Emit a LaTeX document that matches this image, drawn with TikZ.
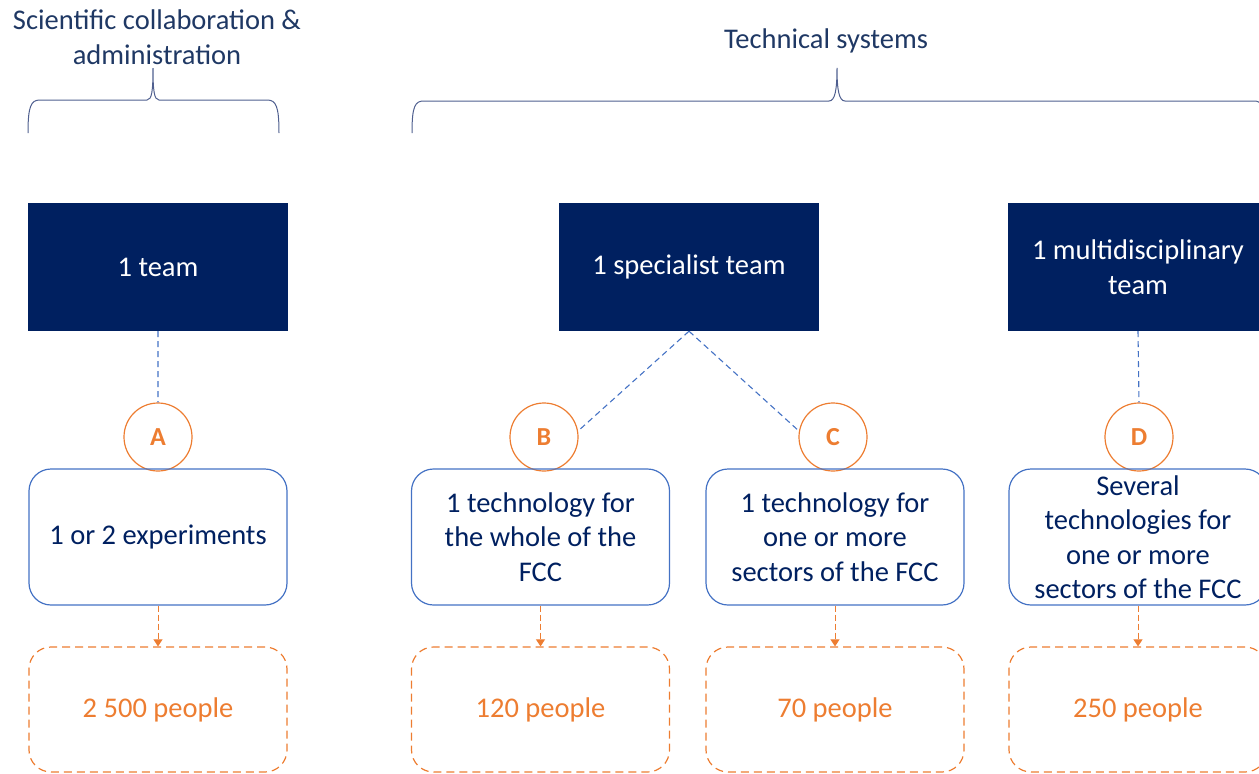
\documentclass[tikz,border=0pt]{standalone}
\usepackage{fontspec}
\setmainfont{Carlito}
\usetikzlibrary{positioning,arrows.meta}
\definecolor{fccnavy}{HTML}{002060}
\definecolor{fccblue}{HTML}{4472C4}
\definecolor{fccorange}{HTML}{ED7D31}
\definecolor{bracecol}{HTML}{4F5F8F}
\definecolor{titlecol}{HTML}{1F3864}
\tikzset{
teambox/.style={fill=fccnavy, text=white, minimum width=260pt, minimum height=128pt, align=center, font=\fontsize{28.5}{34.5}\selectfont}, % dark boxes
letter/.style={draw=fccorange, circle, line width=1.2pt, minimum size=68pt, text=fccorange, font=\fontsize{26}{30}\selectfont\bfseries},
techbox/.style={draw=fccblue, line width=1.2pt, rounded corners=22pt, minimum width=258pt, minimum height=136pt, align=center, text=fccnavy, font=\fontsize{28.5}{34.5}\selectfont},
peoplebox/.style={draw=fccorange, dash pattern=on 8pt off 5pt, line width=1.2pt, rounded corners=22pt, minimum width=258pt, minimum height=125pt, text=fccorange, font=\fontsize{28.5}{34.5}\selectfont},
link/.style={draw=fccblue, dash pattern=on 6pt off 4pt, line width=1.1pt},
flow/.style={draw=fccorange, dash pattern=on 6pt off 3pt, line width=1pt, -{Triangle[width=9pt,length=7pt]}},
brace/.style={draw=bracecol, line width=1pt},
title/.style={align=center, text=titlecol, font=\fontsize{28.5}{34.5}\selectfont},
}
\begin{document}
\begin{tikzpicture}[x=1pt,y=-1pt]
        \useasboundingbox (0,0) rectangle (1259,774);
        \clip (0,0) rectangle (1259,774);
        % headings
        \node[title] at (157,37) (sca) {Scientific collaboration \&\\administration};
        \node[title] at (826,41) (tsys) {Technical systems};
        \draw[brace] (28,133) .. controls (28,106) and (31,100) .. (40,100) -- (147,100)
            .. controls (152,100) and (153,90) .. (153,68)
            .. controls (153,90) and (154,100) .. (159,100) -- (267,100)
            .. controls (276,100) and (279,106) .. (279,133);
        \draw[brace] (412,133) .. controls (412,106) and (415,101) .. (424,101) -- (829,101)
            .. controls (835,101) and (837,90) .. (837,68)
            .. controls (837,90) and (839,101) .. (845,101) -- (1254,101)
            .. controls (1262,101) and (1265,106) .. (1265,133);
        % teams
        \node[teambox] at (158,267) (t1) {1 team};
        \node[teambox] at (689,267) (t2) {1 specialist team};
        \node[teambox] at (1138,267) (t3) {1 multidisciplinary\\team};
        % letters
        \node[letter] at (158,437) (a) {A};
        \node[letter] at (544,437) (b) {B};
        \node[letter] at (833,437) (c) {C};
        \node[letter] at (1139,437) (d) {D};
        % technologies
        \node[techbox] at (158,537) (ta) {1 or 2 experiments};
        \node[techbox] at (540.5,537) (tb) {1 technology for\\the whole of the\\FCC};
        \node[techbox] at (835,537) (tc) {1 technology for\\one or more\\sectors of the FCC};
        \node[techbox] at (1138,537) (td) {Several\\technologies for\\one or more\\sectors of the FCC};
        % people
        \node[peoplebox] at (158,709.5) (pa) {2 500 people};
        \node[peoplebox] at (540.5,709.5) (pb) {120 people};
        \node[peoplebox] at (835,709.5) (pc) {70 people};
        \node[peoplebox] at (1138,709.5) (pd) {250 people};
        \draw[link]
        (t1.south) -- (a.north)
        (t2.south) -- (b.10)
        (t2.south) -- (c.170)
        (t3.south) -- (d.north)
        ;
        \draw[flow] (ta.south) -- (pa.north);
        \draw[flow] (tb.south) -- (pb.north);
        \draw[flow] (tc.south) -- (pc.north);
        \draw[flow] (td.south) -- (pd.north);
    \end{tikzpicture}
\end{document}
